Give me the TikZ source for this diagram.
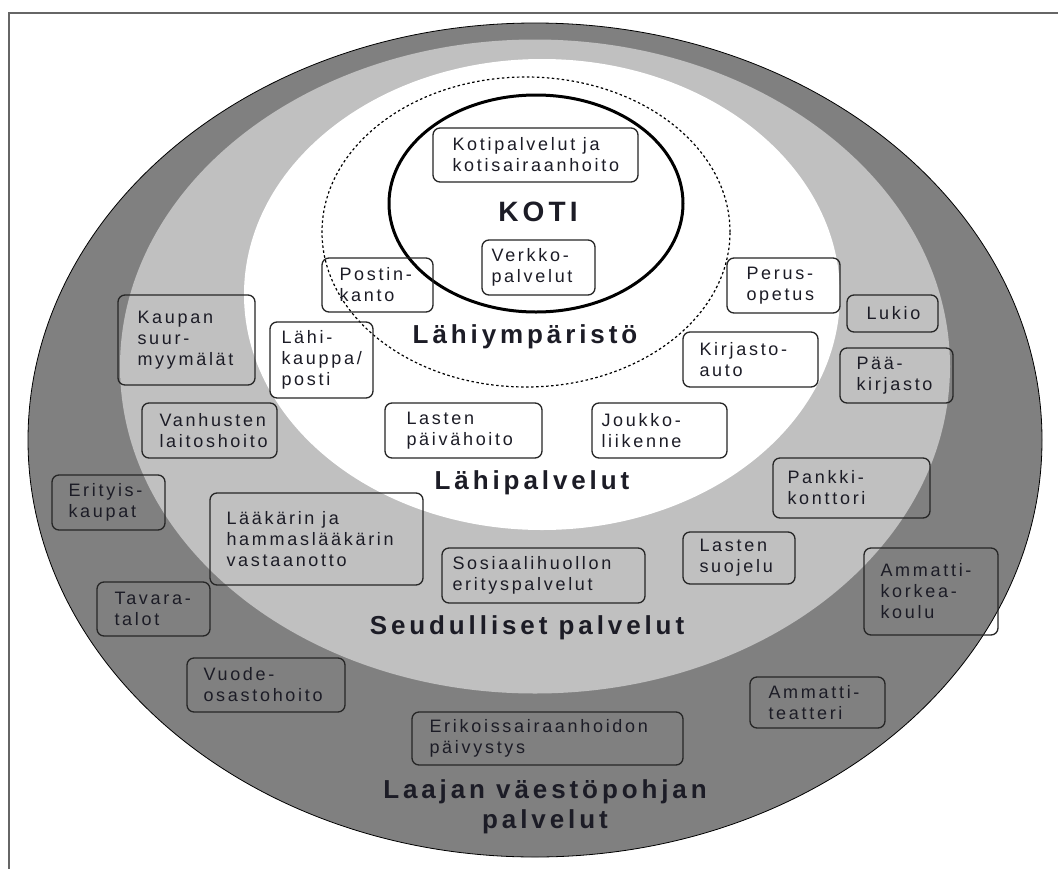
\documentclass[tikz,border=0pt]{standalone}
\usepackage{fontspec}
\setmainfont{Liberation Sans}
\newfontfamily\lblfont[LetterSpace=15]{Liberation Sans}
\definecolor{ringdark}{HTML}{808080}
\definecolor{ringlight}{HTML}{C0C0C0}
\definecolor{txt}{HTML}{1C1C26}
\newcommand\svcbox[7]{%
  \node[boxframe, minimum width={#4-#2}, minimum height={#5-#3}] (#1) at ({(#2+#4)/2},{(#3+#5)/2}) {};
  \node[lbl, anchor=west] (#1-t) at ([xshift=#6pt]#1.west) {#7};}
\begin{document}
\begin{tikzpicture}[x=1pt,y=-1pt,
  boxframe/.style={draw=black!85, line width=1.3pt, rounded corners=7pt, inner sep=0pt},
  lbl/.style={font=\lblfont\fontsize{18}{21}\selectfont, text=txt, align=left, inner sep=0pt},
  ringtitle/.style={font=\lblfont\bfseries\fontsize{26}{30}\selectfont, text=txt, align=center, inner sep=0pt}]
\useasboundingbox (0,0) rectangle (1058,868);
\fill[white] (0,0) rectangle (1058,868);
% frame
\draw[line width=2pt, black!60] (9,13) rectangle (1090,900);
% rings
\filldraw[fill=ringdark, draw=black, line width=0.8pt] (535,440) ellipse [x radius=507pt, y radius=417pt];
\fill[ringlight] (535,366.5) ellipse [x radius=415pt, y radius=327pt];
\fill[white] (542,294.5) ellipse [x radius=298pt, y radius=235.5pt];
\draw[dash pattern=on 2.5pt off 2.5pt, line width=1.2pt] (526,232) ellipse [x radius=204pt, y radius=155pt];
\draw[line width=3pt] (536,203.5) ellipse [x radius=147pt, y radius=108.5pt];
% titles
\node[ringtitle, font=\lblfont\bfseries\fontsize{28}{32}\selectfont] (koti) at (538,212) {KOTI};
\node[ringtitle] (lahiymp) at (525,337) {Lähiympäristö};
\node[ringtitle] (lahipal) at (532,483) {Lähipalvelut};
\node[ringtitle] (seud) at (527,628) {Seudulliset palvelut};
\node[ringtitle] (laaja) at (545,807) {Laajan väestöpohjan\\palvelut};
% boxes
\svcbox{kotipal}{433}{128}{638}{182}{20}{Kotipalvelut ja\\kotisairaanhoito}
\svcbox{verkko}{482}{240}{595}{295}{10}{Verkko-\\palvelut}
\svcbox{postin}{322}{258}{433}{312}{18}{Postin-\\kanto}
\svcbox{lahik}{270}{322}{373}{398}{12}{Lähi-\\kauppa/\\posti}
\svcbox{perus}{727}{258}{840}{313}{20}{Perus-\\opetus}
\svcbox{lukio}{847}{295}{938}{332}{20}{Lukio}
\svcbox{kirj}{683}{332}{818}{387}{17}{Kirjasto-\\auto}
\svcbox{paak}{840}{348}{953}{403}{17}{Pää-\\kirjasto}
\svcbox{kaupan}{118}{295}{255}{385}{20}{Kaupan\\suur-\\myymälät}
\svcbox{vanh}{142}{403}{277}{458}{18}{Vanhusten\\laitoshoito}
\svcbox{lasten}{385}{403}{542}{458}{22}{Lasten\\päivähoito}
\svcbox{joukko}{592}{403}{727}{458}{10}{Joukko-\\liikenne}
\svcbox{erity}{52}{475}{165}{530}{17}{Erityis-\\kaupat}
\svcbox{laak}{210}{493}{423}{585}{17}{Lääkärin ja\\hammaslääkärin\\vastaanotto}
\svcbox{pankki}{773}{458}{930}{518}{15}{Pankki-\\konttori}
\svcbox{sosi}{442}{548}{645}{603}{11}{Sosiaalihuollon\\erityspalvelut}
\svcbox{lsuoj}{683}{532}{795}{584}{17}{Lasten\\suojelu}
\svcbox{amk}{864}{548}{998}{635}{17}{Ammatti-\\korkea-\\koulu}
\svcbox{tavara}{97}{582}{210}{636}{18}{Tavara-\\talot}
\svcbox{vuode}{187}{658}{345}{712}{17}{Vuode-\\osastohoito}
\svcbox{teatteri}{750}{677}{885}{728}{19}{Ammatti-\\teatteri}
\svcbox{eriko}{412}{712}{683}{765}{18}{Erikoissairaanhoidon\\päivystys}
\end{tikzpicture}
\end{document}
